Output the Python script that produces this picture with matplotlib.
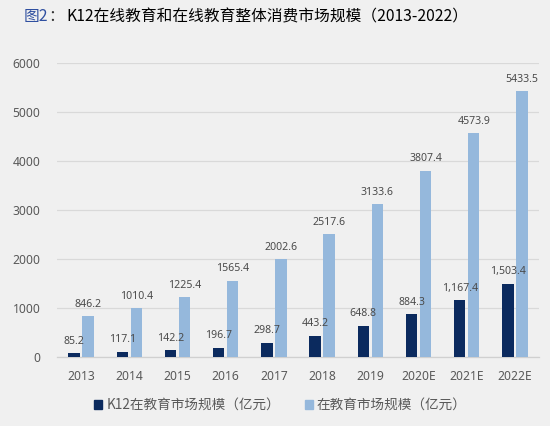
import matplotlib
matplotlib.use("Agg")
import matplotlib.pyplot as plt
import matplotlib.patches as mpatches
import numpy as np

plt.rcParams['font.family'] = ['Noto Sans CJK SC', 'DejaVu Sans']

years = ["2013", "2014", "2015", "2016", "2017", "2018", "2019", "2020E", "2021E", "2022E"]
k12 = [85.2, 117.1, 142.2, 196.7, 298.7, 443.2, 648.8, 884.3, 1167.4, 1503.4]
k12_labels = ["85.2", "117.1", "142.2", "196.7", "298.7", "443.2", "648.8", "884.3", "1,167.4", "1,503.4"]
total = [846.2, 1010.4, 1225.4, 1565.4, 2002.6, 2517.6, 3133.6, 3807.4, 4573.9, 5433.5]
total_labels = ["846.2", "1010.4", "1225.4", "1565.4", "2002.6", "2517.6", "3133.6", "3807.4", "4573.9", "5433.5"]
yticks = [0, 1000, 2000, 3000, 4000, 5000, 6000]
legend_names = ["K12在教育市场规模（亿元）", "在教育市场规模（亿元）"]

bg = "#f0f0f0"
navy = "#0b2a5e"
light = "#95b8dc"
txt = "#595959"
lbl = "#4a4a4a"

fig = plt.figure(figsize=(5.5, 4.26), dpi=100, facecolor=bg)
ax = fig.add_axes([57/550, 1-357.3/426, (539-57)/550, (357.3-63.3)/426])
ax.set_facecolor(bg)

x = np.arange(len(years))
w = 0.235
off = 0.145
ax.bar(x - off, k12, width=w, color=navy, zorder=3)
ax.bar(x + off, total, width=w, color=light, zorder=3)

for xi, v, s in zip(x, k12, k12_labels):
    ax.annotate(s, (xi - off, v), xytext=(0, 4.5), textcoords="offset points",
                ha="center", va="bottom", fontsize=7.6, color=lbl,
                family=['Noto Sans', 'DejaVu Sans'])
for xi, v, s in zip(x, total, total_labels):
    ax.annotate(s, (xi + off, v), xytext=(0, 4.5), textcoords="offset points",
                ha="center", va="bottom", fontsize=7.6, color=lbl,
                family=['Noto Sans', 'DejaVu Sans'])

ax.set_xlim(-0.5, len(years) - 0.5)
ax.set_ylim(0, 6000)
ax.set_yticks(yticks)
ax.set_yticklabels([str(t) for t in yticks])
ax.set_xticks(x)
ax.set_xticklabels(years)
for lab in ax.get_xticklabels() + ax.get_yticklabels():
    lab.set_fontfamily(['Noto Sans', 'DejaVu Sans'])
    lab.set_fontsize(8.7)
    lab.set_color(txt)
ax.tick_params(axis='both', length=0)
ax.tick_params(axis='y', pad=12)
ax.tick_params(axis='x', pad=9)
ax.grid(axis='y', color='#d9d9d9', linewidth=0.9, zorder=0)
for sp in ['top', 'right', 'left']:
    ax.spines[sp].set_visible(False)
ax.spines['bottom'].set_color('#d0d0d0')
ax.spines['bottom'].set_linewidth(0.9)

handles = [mpatches.Patch(color=navy), mpatches.Patch(color=light)]
fig.legend(handles, legend_names, loc='center', bbox_to_anchor=(0.51, 1-405/426), ncol=2,
           frameon=False, fontsize=9.8, handlelength=0.6, handleheight=0.6,
           handletextpad=0.3, columnspacing=1.8, labelcolor=txt)

ty = 1 - 16.5/426
fig.text(24/550, ty, "图2", color="#2f4fa0", fontsize=11.3, va="center", ha="left")
fig.text(48/550, ty, "：", color="#333333", fontsize=11.3, va="center", ha="left")
fig.text(66.7/550, ty, "K12在线教育和在线教育整体消费市场规模（2013-2022）", color="#000000",
         fontsize=11.3, va="center", ha="left")

fig.savefig("out.png", dpi=100, facecolor=bg)
